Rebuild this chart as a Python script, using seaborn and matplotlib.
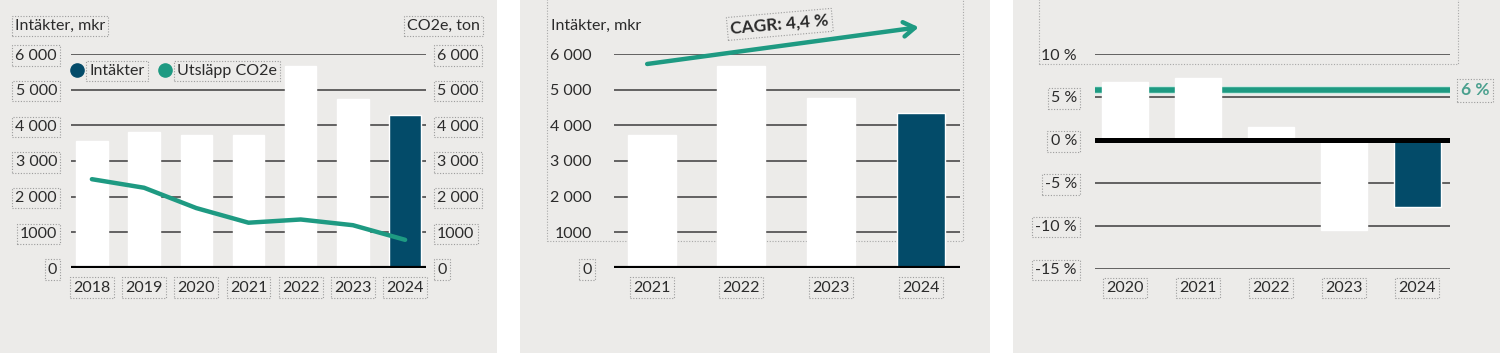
import matplotlib.pyplot as plt
from matplotlib.patches import Rectangle
from matplotlib.lines import Line2D
import seaborn as sns

# Data
years_1 = ['2018', '2019', '2020', '2021', '2022', '2023', '2024']
intakter_1 = [3560, 3800, 3730, 3730, 5670, 4750, 4290]
utslapp_co2e = [2490, 2250, 1680, 1270, 1360, 1200, 790]
yticks_1 = [0, 1000, 2000, 3000, 4000, 5000, 6000]
ytick_labels_1 = ['0', '1000', '2 000', '3 000', '4 000', '5 000', '6 000']

years_2 = ['2021', '2022', '2023', '2024']
intakter_2 = [3730, 5670, 4780, 4350]
cagr_label = 'CAGR: 4,4 %'

years_3 = ['2020', '2021', '2022', '2023', '2024']
tillvaxt = [6.7, 7.2, 1.5, -10.5, -7.8]
mal_niva = 5.75
mal_label = '6 %'
yticks_3 = [-15, -10, -5, 0, 5, 10]
ytick_labels_3 = ['-15 %', '-10 %', '-5 %', '0 %', '5 %', '10 %']

# Colours
BG = '#ecebe9'
DARK = '#034b69'
TEAL = '#1e9a82'
TEXT = '#2b2b2b'
GRID = '#3c3c3c'
FS = 11.5

sns.set_style('white')
plt.rcParams['font.family'] = ['Lato', 'DejaVu Sans']
plt.rcParams['font.size'] = FS

W, H = 1500, 353
fig = plt.figure(figsize=(W / 100, H / 100), dpi=100, facecolor='white')


def px_box(x0, x1, ytop, ybot):
    # pixel rectangle -> figure fraction [left, bottom, width, height]
    return [x0 / W, 1 - ybot / H, (x1 - x0) / W, (ybot - ytop) / H]


def dotted_box():
    return dict(boxstyle='square,pad=0.2', fc='none', ec='#9c9c9c',
                ls=(0, (1, 1.5)), lw=0.8)


# Panel backgrounds
for x0, x1 in [(0, 497), (520, 990), (1013, 1500)]:
    fig.patches.append(Rectangle((x0 / W, 0), (x1 - x0) / W, 1,
                                 transform=fig.transFigure, fc=BG, ec='none', zorder=-10))

# Dotted frames seen in the reference
for x0, x1, y1 in [(547, 963, 241), (1039, 1458, 64)]:
    fig.patches.append(Rectangle((x0 / W, 1 - y1 / H), (x1 - x0) / W, y1 / H + 0.02,
                                 transform=fig.transFigure, fc='none', ec='#a8a8a8',
                                 ls=(0, (1, 1.5)), lw=0.8, zorder=-5))


def style_axes(ax, yticks, ylabels, pad_y):
    ax.set_facecolor('none')
    for s in ax.spines.values():
        s.set_visible(False)
    ax.set_xlabel('')
    ax.set_ylabel('')
    ax.set_yticks(yticks)
    ax.set_yticklabels(ylabels)
    ax.tick_params(axis='both', length=0, colors=TEXT, labelsize=FS)
    ax.tick_params(axis='y', pad=pad_y)
    ax.tick_params(axis='x', pad=9)
    for lbl in ax.get_yticklabels() + ax.get_xticklabels():
        lbl.set_bbox(dotted_box())


# ---------- Panel 1: revenue and emissions ----------
ax1 = fig.add_axes(px_box(71, 426, 54, 268))
farger_1 = ['white'] * (len(years_1) - 1) + [DARK]
sns.barplot(x=years_1, y=intakter_1, hue=years_1, palette=farger_1, legend=False,
            width=0.6, saturation=1, ax=ax1, zorder=2)
for t in yticks_1[1:]:
    ax1.axhline(t, color=GRID, lw=1.1, zorder=1)
ax1.axhline(0, color='black', lw=3, zorder=4)
ax1.set_xlim(-0.4, 6.4)
ax1.set_ylim(0, 6000)
style_axes(ax1, yticks_1, ytick_labels_1, 10)

ax1r = ax1.twinx()
sns.lineplot(x=list(range(len(years_1))), y=utslapp_co2e, ax=ax1r, color=TEAL, lw=3.2)
ax1r.set_ylim(0, 6000)
style_axes(ax1r, yticks_1, ytick_labels_1, 8)
ax1r.tick_params(axis='y', labelleft=False, labelright=True)
for lbl in ax1r.get_yticklabels():
    lbl.set_bbox(dotted_box())

fig.text(15 / W, 1 - 26 / H, 'Intäkter, mkr', ha='left', va='center', color=TEXT,
         fontsize=FS, bbox=dotted_box())
fig.text(480 / W, 1 - 26 / H, 'CO2e, ton', ha='right', va='center', color=TEXT,
         fontsize=FS, bbox=dotted_box())

handles = [Line2D([], [], marker='o', ls='', color=DARK, markersize=9.5),
           Line2D([], [], marker='o', ls='', color=TEAL, markersize=9.5)]
leg = ax1.legend(handles, ['Intäkter', 'Utsläpp CO2e'], ncol=2, frameon=False,
                 loc='center left', bbox_to_anchor=(0.0, 0.92), borderaxespad=0,
                 borderpad=0, handlelength=0.8, handletextpad=0.35, columnspacing=0.9,
                 fontsize=FS)
for t in leg.get_texts():
    t.set_color(TEXT)
    t.set_bbox(dotted_box())

# ---------- Panel 2: revenue with CAGR ----------
ax2 = fig.add_axes(px_box(614, 960, 54, 268))
farger_2 = ['white'] * (len(years_2) - 1) + [DARK]
sns.barplot(x=years_2, y=intakter_2, hue=years_2, palette=farger_2, legend=False,
            width=0.535, saturation=1, ax=ax2, zorder=2)
for t in yticks_1[1:]:
    ax2.axhline(t, color=GRID, lw=1.1, zorder=1)
ax2.axhline(0, color='black', lw=3, zorder=4)
ax2.set_xlim(-0.42, 3.44)
ax2.set_ylim(0, 6000)
style_axes(ax2, yticks_1, ytick_labels_1, 16)
for lbl in ax2.get_yticklabels():
    lbl.set_bbox(None)
ax2.get_yticklabels()[0].set_bbox(dotted_box())

ax2.annotate('', xy=(2.98, 6750), xytext=(-0.05, 5720), annotation_clip=False,
             arrowprops=dict(arrowstyle='->,head_length=0.7,head_width=0.45',
                             color=TEAL, lw=3.2, shrinkA=0, shrinkB=0))
ax2.text(1.43, 6830, cagr_label, ha='center', va='center', rotation=5,
         fontsize=12.5, fontweight='bold', color=TEXT, clip_on=False, bbox=dotted_box())
fig.text(551 / W, 1 - 26 / H, 'Intäkter, mkr', ha='left', va='center', color=TEXT,
         fontsize=FS)

# ---------- Panel 3: growth ----------
ax3 = fig.add_axes(px_box(1095, 1450, 54, 268.7))
farger_3 = ['white'] * (len(years_3) - 1) + [DARK]
sns.barplot(x=years_3, y=tillvaxt, hue=years_3, palette=farger_3, legend=False,
            width=0.64, saturation=1, ax=ax3, zorder=3)
for t in yticks_3:
    if t != 0:
        ax3.axhline(t, color=GRID, lw=1.1, zorder=1)
ax3.axhline(mal_niva, color='#c9ece4', lw=5.5, zorder=2)
ax3.axhline(mal_niva, color=TEAL, lw=4, zorder=2)
ax3.axhline(0, color='black', lw=3.6, zorder=4)
ax3.set_xlim(-0.41, 4.45)
ax3.set_ylim(-15, 10)
style_axes(ax3, yticks_3, ytick_labels_3, 13)
ax3.get_yticklabels()[-1].set_bbox(None)
ax3.text(1.03, mal_niva, mal_label, transform=ax3.get_yaxis_transform(), ha='left',
         va='center', color='#4aa08e', fontsize=12.5, fontweight='bold', clip_on=False,
         bbox=dotted_box())

fig.savefig('out.png', dpi=100, facecolor='white')
